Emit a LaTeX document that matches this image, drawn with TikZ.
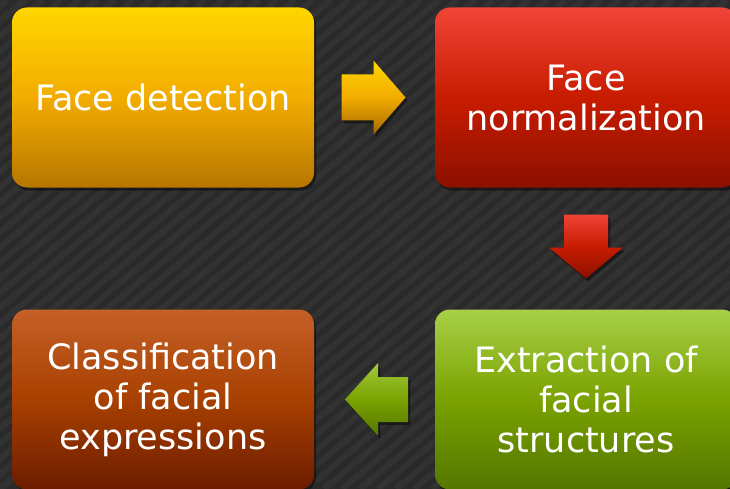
\documentclass[tikz,border=0pt]{standalone}
\usepackage{fontspec}
\setmainfont{DejaVu Sans}
\usetikzlibrary{calc,shadows}
\definecolor{bgdark}{RGB}{42,42,42}
\definecolor{bglight}{RGB}{52,52,52}
\definecolor{yTop}{RGB}{255,214,0}
\definecolor{yMid}{RGB}{242,172,0}
\definecolor{yBot}{RGB}{182,118,0}
\definecolor{rTop}{RGB}{240,68,56}
\definecolor{rMid}{RGB}{200,28,0}
\definecolor{rBot}{RGB}{140,16,0}
\definecolor{gTop}{RGB}{168,208,72}
\definecolor{gMid}{RGB}{122,162,0}
\definecolor{gBot}{RGB}{84,118,0}
\definecolor{oTop}{RGB}{196,96,40}
\definecolor{oMid}{RGB}{168,64,0}
\definecolor{oBot}{RGB}{108,28,0}
\tikzset{
  stepbox/.style={rounded corners=15pt, minimum width=302pt, minimum height=180pt,
    inner sep=0pt, text=white, align=center,
    font=\fontsize{35}{40}\selectfont,
    drop shadow={fill=black, opacity=0.45, shadow xshift=2pt, shadow yshift=-3pt}},
  arrowshadow/.style={drop shadow={fill=black, opacity=0.45, shadow xshift=2pt, shadow yshift=-3pt}},
}
\begin{document}
\begin{tikzpicture}[x=1pt,y=-1pt]
\useasboundingbox (0,0) rectangle (730,489);
\clip (0,0) rectangle (730,489);
% background
\fill[bgdark] (0,0) rectangle (730,489);
\foreach \i in {-40,...,45} {
  \draw[bglight, line width=6pt, opacity=0.8] (\i*18,489) -- ++(583,-489);
}
% boxes
\node[stepbox, top color=yTop, bottom color=yBot, middle color=yMid] (b1) at (163,97.5) {Face detection};
\node[stepbox, top color=rTop, bottom color=rBot, middle color=rMid] (b2) at (586,97.5) {Face\\normalization};
\node[stepbox, top color=gTop, bottom color=gBot, middle color=gMid] (b3) at (586,399.5) {Extraction of\\facial\\structures};
\node[stepbox, top color=oTop, bottom color=oBot, middle color=oMid] (b4) at (163,399.5) {Classification\\of facial\\expressions};
% arrow centres
\coordinate (a1) at ($(b1.east)!0.5!(b2.west)$);
\coordinate (a2) at ($(b2.south)!0.5!(b3.north)$);
\coordinate (a3) at ($(b4.east)!0.5!(b3.west)$);
% right arrow
\path[arrowshadow, top color=yTop, bottom color=yBot!90!black, middle color=yMid]
  ($(a1)+(-33,-23)$) -- ($(a1)+(-1,-23)$) -- ($(a1)+(-1,-37)$) -- ($(a1)+(31,0)$)
  -- ($(a1)+(-1,37)$) -- ($(a1)+(-1,23)$) -- ($(a1)+(-33,23)$) -- cycle;
% down arrow
\path[arrowshadow, top color=rTop, bottom color=rBot, middle color=rMid]
  ($(a2)+(-22,-34)$) -- ($(a2)+(22,-34)$) -- ($(a2)+(22,-1)$) -- ($(a2)+(37,-1)$)
  -- ($(a2)+(0,30)$) -- ($(a2)+(-37,-1)$) -- ($(a2)+(-22,-1)$) -- cycle;
% left arrow
\path[arrowshadow, top color=gTop!85!gMid, bottom color=gBot, middle color=gMid]
  ($(a3)+(33.5,-22.5)$) -- ($(a3)+(3.5,-22.5)$) -- ($(a3)+(3.5,-36.5)$) -- ($(a3)+(-29.5,0)$)
  -- ($(a3)+(3.5,36.5)$) -- ($(a3)+(3.5,22.5)$) -- ($(a3)+(33.5,22.5)$) -- cycle;
\end{tikzpicture}
\end{document}
